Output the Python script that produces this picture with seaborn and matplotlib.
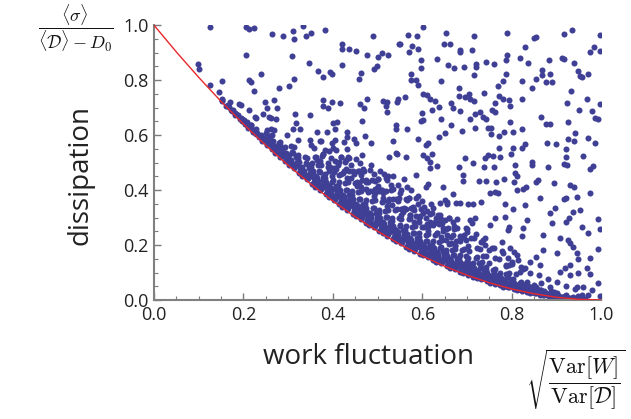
import pandas as pd
import matplotlib
matplotlib.use("Agg")
import matplotlib.pyplot as plt
from matplotlib.ticker import MultipleLocator
import seaborn as sns

# bound curve
curve_x = [0.0, 0.05, 0.1, 0.15, 0.2, 0.25, 0.3, 0.35, 0.4, 0.45, 0.5,
           0.55, 0.6, 0.65, 0.7, 0.75, 0.8, 0.85, 0.9, 0.95, 1.0]
curve_y = [1.0, 0.9025, 0.81, 0.7225, 0.64, 0.5625, 0.49, 0.4225, 0.36, 0.3025, 0.25,
           0.2025, 0.16, 0.1225, 0.09, 0.0625, 0.04, 0.0225, 0.01, 0.0025, 0.0]

# sparse points, upper-left part of the plot
upper_left = [
    (.125,.995),(.206,.995),(.212,.987),(.223,.990),(.334,.996),(.263,.967),(.289,.96),(.311,.978),
    (.313,.948),(.339,.962),(.351,.970),(.382,.984),(.49,.96),(.42,.933),(.42,.912),(.435,.912),
    (.451,.907),(.477,.891),(.5,.883),(.499,.851),(.492,.839),(.206,.891),(.308,.887),(.099,.857),
    (.101,.84),(.347,.864),(.24,.824),(.367,.833),(.378,.812),(.393,.828),(.398,.824),(.42,.855),
    (.463,.827),(.459,.804),(.313,.803),(.213,.80),(.218,.794),(.125,.783),(.151,.795),(.223,.761),
    (.28,.772),(.302,.779),(.145,.756),(.153,.733),(.17,.721),(.191,.712),(.194,.709),(.248,.719),
    (.268,.727),(.168,.702),(.173,.693),(.213,.693),(.253,.70),(.274,.697),(.377,.727),(.378,.705),
    (.39,.697),(.398,.72),(.416,.715),(.46,.712),(.469,.697),(.476,.731),(.316,.676),(.349,.673),
    (.182,.68),(.188,.672),(.197,.658),(.225,.667),(.227,.663),(.243,.676),(.257,.667),(.273,.658),
    (.261,.662),(.196,.652),(.208,.636),(.218,.635),(.317,.644),(.401,.644),(.41,.648),(.465,.652),
    (.222,.616),(.228,.604),(.253,.618),(.261,.622),(.311,.621),(.326,.621),(.364,.61),(.386,.61),
    (.405,.622),(.431,.612),(.431,.594),(.448,.587),(.471,.596),(.486,.572),
    (.373,.578),(.349,.582),(.322,.582),(.297,.6),(.268,.618),(.263,.564),(.282,.576),(.397,.572),
    (.404,.582),(.425,.576),(.451,.57),(.542,.536),(.378,.533),(.392,.543),(.408,.545),(.431,.548),
    (.434,.521),(.419,.519),(.466,.527),
]

# sparse points, upper-right part of the plot
upper_right = [
    (.602,.995),(.568,.964),(.587,.96),(.653,.973),(.715,.96),(.79,.973),(.849,.955),(.853,.957),
    (.917,.967),(.934,.982),(.998,.964),(.548,.93),(.551,.931),(.577,.924),(.571,.902),(.591,.912),
    (.648,.932),(.661,.932),(.684,.909),(.685,.901),(.711,.909),(.829,.921),(.984,.921),(.974,.902),
    (.997,.905),(.509,.897),(.524,.891),(.79,.893),(.787,.873),(.818,.879),(.912,.879),(.917,.876),
    (.939,.861),(.597,.873),(.597,.845),(.633,.875),(.658,.855),(.671,.845),(.693,.846),(.719,.857),
    (.719,.849),(.742,.865),(.761,.858),(.837,.861),(.884,.873),(.867,.836),(.885,.824),(.948,.834),
    (.952,.815),(.957,.81),(.971,.822),(.574,.822),(.574,.80),(.585,.80),(.591,.784),(.642,.795),
    (.716,.819),(.788,.822),(.781,.796),(.769,.779),(.822,.797),(.853,.805),(.876,.794),(.889,.793),
    (.868,.818),(.844,.772),(.682,.773),(.933,.76),(.602,.749),(.611,.745),(.617,.731),(.629,.725),
    (.562,.739),(.545,.733),(.544,.721),(.511,.724),(.52,.721),(.518,.705),(.521,.684),(.682,.742),
    (.695,.739),(.704,.749),(.706,.731),(.716,.725),(.738,.753),(.771,.743),(.781,.73),(.794,.727),
    (.762,.717),(.796,.705),(.822,.732),(.665,.717),(.638,.703),(.621,.691),(.6,.679),(.669,.697),
    (.685,.688),(.728,.683),(.735,.665),(.743,.657),(.717,.676),(.756,.691),(.762,.684),(.706,.659),
    (.641,.658),(.602,.655),(.598,.652),(.541,.635),(.542,.621),(.565,.622),(.663,.635),(.688,.616),
    (.718,.627),(.747,.627),(.753,.627),(.753,.604),(.772,.596),(.783,.612),(.802,.612),(.823,.621),
    (.796,.648),(.866,.664),(.876,.64),(.885,.64),(.926,.646),(.924,.715),(.967,.733),(.95,.693),
    (.979,.688),(.997,.713),(.985,.661),(.993,.659),(.94,.606),(.926,.585),(.939,.579),(.971,.59),
    (.985,.57),(.879,.573),(.898,.568),(.922,.549),(.922,.521),(.959,.524),(.829,.566),(.822,.553),
    (.803,.552),(.771,.552),(.591,.587),(.535,.579),(.613,.57),(.609,.565),(.638,.594),(.651,.606),
    (.695,.517),(.74,.517),(.747,.527),(.757,.524),(.544,.533),(.526,.521),(.563,.521),(.602,.527),
    (.611,.517),(.622,.533),(.773,.521),(.799,.533),
]

# sparse points, lower-right part of the plot
lower_right = [
    (.617,.501),(.618,.479),(.632,.488),(.682,.485),(.714,.499),(.738,.483),(.76,.483),(.807,.491),
    (.808,.461),(.811,.451),(.844,.503),(.846,.491),(.881,.485),(.917,.495),(.924,.491),(.982,.487),
    (.974,.475),(.492,.458),(.524,.451),(.52,.436),(.585,.455),(.565,.41),(.613,.421),(.608,.41),
    (.647,.41),(.668,.384),(.69,.434),(.691,.455),(.726,.434),(.742,.434),(.764,.43),(.782,.44),
    (.804,.43),(.825,.403),(.831,.41),(.855,.43),(.858,.438),(.894,.426),(.93,.418),(.939,.41),
    (.916,.366),(.921,.37),(.945,.376),(.974,.39),(.863,.37),(.811,.40),(.751,.388),(.762,.394),
    (.769,.388),(.684,.354),(.702,.349),(.714,.349),(.732,.356),(.639,.354),(.655,.358),(.675,.354),
    (.784,.351),(.803,.331),(.829,.345),(.896,.333),(.885,.318),(.937,.321),(.952,.327),(.922,.285),
    (.928,.297),(.993,.293),(.956,.264),(.971,.245),(.997,.257),(.889,.279),(.87,.236),(.907,.224),
    (.926,.218),(.93,.208),(.937,.194),(.974,.152),(.993,.185),(.948,.148),(.93,.127),(.918,.115),
    (.907,.103),(.967,.115),(.974,.095),(.93,.091),(.948,.097),(.993,.061),(.945,.048),(.959,.048),
    (.885,.048),(.866,.061),(.855,.048),(.9,.024),(.913,.012),(.922,.012),(.957,.017),(.948,.016),
    (.997,.015),(.829,.115),(.84,.139),(.863,.127),(.855,.157),(.87,.182),(.811,.164),(.814,.145),
    (.792,.152),(.788,.127),(.825,.261),(.833,.291),(.822,.233),(.796,.188),(.804,.176),(.777,.212),
    (.762,.297),(.784,.303),(.792,.255),(.794,.267),(.751,.273),(.741,.224),(.732,.212),(.706,.291),
    (.718,.297),(.71,.279),(.699,.248),(.693,.236),(.684,.221),(.669,.285),(.678,.293),(.658,.261),
    (.65,.291),(.602,.315),(.624,.333),(.635,.309),(.643,.279),(.617,.285),(.65,.364),(.654,.351),
    (.565,.364),(.557,.321),(.572,.309),(.58,.33),(.591,.351),(.956,.004),(.922,.018),(.863,.036),
    (.87,.02),(.848,.03),(.885,.015),(.9,.17),(.945,.17),
    (.47,.47),(.46,.5),(.485,.49),(.5,.44),(.505,.47),(.515,.46),(.53,.42),(.545,.42),(.55,.39),
    (.535,.45),(.56,.44),(.575,.4),(.59,.38),(.6,.36),(.62,.35),(.44,.49),(.43,.51),(.455,.47),
    (.5,.415),(.51,.4),(.57,.37),(.58,.34),(.61,.325),(.63,.3),(.66,.3),(.67,.27),(.64,.31),
    (.7,.26),(.72,.24),(.74,.2),(.76,.19),(.78,.17),(.8,.13),(.82,.12),(.84,.1),(.86,.09),
    (.88,.075),(.9,.065),(.92,.05),(.94,.04),(.97,.02),(.98,.035),
]

# points just above the dense band, where it thins out
mid_fill = [
    (.352,.565),(.358,.552),(.364,.511),(.371,.578),(.377,.530),(.383,.545),(.389,.497),(.395,.515),
    (.401,.552),(.407,.478),(.412,.492),(.418,.520),(.424,.470),(.429,.478),(.436,.515),(.441,.445),
    (.447,.458),(.452,.512),(.458,.425),(.463,.455),(.468,.475),(.474,.430),(.479,.428),(.484,.472),
    (.489,.398),(.495,.432),(.501,.440),(.507,.402),(.512,.389),(.518,.445),(.523,.362),(.529,.401),
    (.534,.405),(.541,.368),(.546,.361),(.552,.402),(.558,.333),(.563,.368),(.569,.372),(.575,.335),
    (.581,.327),(.586,.372),(.592,.300),(.598,.331),(.604,.338),(.611,.278),(.617,.312),(.622,.318),
    (.628,.282),(.634,.281),(.641,.296),(.647,.262),(.653,.259),(.659,.298),(.665,.228),(.671,.257),
    (.678,.262),(.684,.232),(.691,.228),(.697,.262),(.703,.196),(.709,.226),(.716,.225),(.723,.190),
    (.729,.187),(.736,.218),(.742,.160),(.749,.183),(.756,.188),(.763,.152),(.771,.149),(.778,.178),
    (.786,.122),(.794,.129),(.801,.138),(.809,.095),(.818,.101),(.826,.112),
    (.372,.505),(.392,.47),(.413,.455),(.433,.44),(.453,.415),(.473,.405),(.493,.39),(.513,.37),
    (.533,.345),(.553,.33),(.573,.31),(.593,.285),(.613,.265),(.633,.245),(.653,.22),(.673,.2),
]

# dense band hugging the bound, x from 0.15 to 0.35
band_a = [
    (.151,.723),(.153,.726),(.162,.707),(.165,.711),(.174,.689),(.177,.691),
    (.181,.673),(.183,.676),(.192,.657),(.195,.661),
    (.204,.640),(.207,.644),(.201,.654),(.209,.647),
    (.211,.625),(.213,.630),(.216,.636),(.218,.627),
    (.222,.610),(.225,.616),(.229,.623),(.224,.612),
    (.234,.593),(.237,.597),(.231,.607),(.239,.600),
    (.241,.579),(.243,.584),(.246,.590),(.248,.581),
    (.252,.565),(.255,.574),(.259,.584),(.254,.569),(.257,.597),(.251,.609),
    (.264,.548),(.267,.554),(.261,.567),(.269,.558),(.265,.580),(.263,.599),
    (.271,.534),(.273,.541),(.276,.550),(.278,.537),(.272,.562),(.279,.573),
    (.282,.520),(.285,.529),(.289,.539),(.284,.524),(.287,.552),(.281,.564),
    (.294,.504),(.297,.510),(.291,.523),(.299,.514),(.295,.536),(.293,.555),
    (.301,.491),(.303,.500),(.306,.511),(.308,.496),(.302,.526),(.309,.540),(.304,.505),(.307,.560),
    (.312,.479),(.315,.490),(.319,.503),(.314,.483),(.317,.519),(.311,.535),(.316,.494),(.313,.557),
    (.324,.462),(.327,.469),(.321,.486),(.329,.475),(.325,.503),(.323,.526),(.328,.480),(.322,.515),
    (.331,.450),(.333,.459),(.336,.470),(.338,.455),(.332,.485),(.339,.499),(.334,.464),(.337,.519),
    (.342,.439),(.345,.450),(.349,.463),(.344,.443),(.347,.479),(.341,.495),(.346,.454),(.343,.517),
]

# dense band, x from 0.35 to 0.55
band_b = [
    (.354,.423),(.357,.431),(.351,.450),(.359,.437),(.355,.469),(.353,.497),(.358,.444),(.352,.484),(.356,.458),(.359,.522),
    (.361,.412),(.363,.421),(.366,.434),(.368,.416),(.362,.452),(.369,.468),(.364,.428),(.367,.490),(.365,.444),(.363,.522),
    (.372,.400),(.375,.413),(.379,.427),(.374,.405),(.377,.447),(.371,.464),(.376,.418),(.373,.490),(.378,.435),(.375,.525),
    (.384,.384),(.387,.392),(.381,.411),(.389,.398),(.385,.430),(.383,.458),(.388,.405),(.382,.445),(.386,.419),(.389,.483),
    (.391,.374),(.393,.383),(.396,.396),(.398,.378),(.392,.414),(.399,.430),(.394,.390),(.397,.452),(.395,.406),(.393,.484),
    (.402,.364),(.405,.378),(.409,.394),(.404,.369),(.407,.416),(.401,.436),(.406,.383),(.403,.464),(.408,.403),(.405,.504),(.402,.479),
    (.414,.348),(.417,.357),(.411,.379),(.419,.364),(.415,.400),(.413,.431),(.418,.371),(.412,.416),(.416,.388),(.419,.460),(.414,.503),
    (.421,.338),(.423,.349),(.426,.363),(.428,.343),(.422,.383),(.429,.401),(.424,.356),(.427,.426),(.425,.374),(.423,.462),(.428,.503),
    (.432,.329),(.435,.343),(.439,.359),(.434,.334),(.437,.381),(.431,.401),(.436,.348),(.433,.429),(.438,.368),(.435,.469),(.432,.444),
    (.444,.314),(.447,.323),(.441,.345),(.449,.330),(.445,.366),(.443,.397),(.448,.337),(.442,.382),(.446,.354),(.449,.426),(.444,.469),
    (.451,.305),(.453,.316),(.456,.330),(.458,.310),(.452,.350),(.459,.368),(.454,.323),(.457,.393),(.455,.341),(.453,.429),(.458,.470),
    (.462,.296),(.465,.310),(.469,.326),(.464,.301),(.467,.348),(.461,.368),(.466,.315),(.463,.396),(.468,.335),(.465,.436),(.462,.411),
    (.474,.281),(.477,.290),(.471,.312),(.479,.297),(.475,.333),(.473,.364),(.478,.304),(.472,.349),(.476,.321),(.479,.393),(.474,.436),
    (.481,.272),(.483,.283),(.486,.297),(.488,.277),(.482,.317),(.489,.335),(.484,.290),(.487,.360),(.485,.308),(.483,.396),(.488,.437),
    (.492,.264),(.495,.278),(.499,.294),(.494,.269),(.497,.316),(.491,.336),(.496,.283),(.493,.364),(.498,.303),(.495,.404),(.492,.379),
    (.504,.250),(.507,.259),(.501,.279),(.509,.265),(.505,.299),(.503,.328),(.508,.272),(.502,.315),(.506,.287),(.509,.355),(.504,.396),
    (.511,.242),(.513,.252),(.516,.266),(.518,.247),(.512,.284),(.519,.301),(.514,.259),(.517,.325),(.515,.276),(.513,.359),(.518,.398),
    (.522,.233),(.525,.247),(.529,.262),(.524,.239),(.527,.283),(.521,.301),(.526,.252),(.523,.329),(.528,.271),(.525,.366),(.522,.342),
    (.534,.221),(.537,.230),(.531,.250),(.539,.236),(.535,.270),(.533,.299),(.538,.243),(.532,.286),(.536,.258),(.539,.326),(.534,.367),
    (.541,.214),(.543,.224),(.546,.238),(.548,.219),(.542,.256),(.549,.273),(.544,.231),(.547,.297),(.545,.248),(.543,.331),(.548,.370),
]

# dense band, x from 0.55 to 0.75
band_c = [
    (.552,.206),(.555,.219),(.559,.233),(.554,.211),(.557,.253),(.551,.270),(.556,.224),(.553,.296),(.558,.241),(.555,.331),(.552,.309),
    (.564,.194),(.567,.202),(.561,.221),(.569,.208),(.565,.240),(.563,.268),(.568,.215),(.562,.255),(.566,.229),(.569,.293),(.564,.332),
    (.571,.187),(.573,.196),(.576,.209),(.578,.191),(.572,.227),(.579,.243),(.574,.203),(.577,.265),(.575,.219),(.573,.297),(.578,.334),
    (.582,.179),(.585,.192),(.589,.206),(.584,.184),(.587,.226),(.581,.243),(.586,.197),(.583,.269),(.588,.214),(.585,.304),(.582,.282),
    (.594,.168),(.597,.176),(.591,.195),(.599,.182),(.595,.214),(.593,.242),(.598,.189),(.592,.229),(.596,.203),(.599,.267),(.594,.306),
    (.601,.162),(.603,.171),(.606,.183),(.608,.166),(.602,.199),(.609,.214),(.604,.177),(.607,.235),(.605,.192),(.603,.265),(.608,.300),
    (.612,.155),(.615,.167),(.619,.181),(.614,.160),(.617,.199),(.611,.215),(.616,.172),(.613,.239),(.618,.188),(.615,.272),(.612,.251),
    (.624,.144),(.627,.152),(.621,.170),(.629,.158),(.625,.188),(.623,.213),(.628,.164),(.622,.201),(.626,.177),(.629,.237),(.624,.273),
    (.631,.139),(.633,.148),(.636,.160),(.638,.143),(.632,.176),(.639,.191),(.634,.154),(.637,.212),(.635,.169),(.633,.242),(.638,.277),
    (.642,.133),(.645,.145),(.649,.159),(.644,.138),(.647,.177),(.641,.193),(.646,.150),(.643,.217),(.648,.166),(.645,.250),(.642,.229),
    (.654,.123),(.657,.130),(.651,.145),(.659,.135),(.655,.161),(.653,.183),(.658,.140),(.652,.172),(.656,.152),(.659,.204),(.654,.235),
    (.661,.117),(.663,.125),(.666,.136),(.668,.121),(.662,.150),(.669,.163),(.664,.130),(.667,.181),(.665,.143),(.663,.207),(.668,.237),
    (.672,.112),(.675,.122),(.679,.134),(.674,.116),(.677,.149),(.671,.164),(.676,.126),(.673,.184),(.678,.140),(.675,.213),(.672,.195),
    (.684,.102),(.687,.109),(.681,.124),(.689,.114),(.685,.140),(.683,.162),(.688,.119),(.682,.151),(.686,.131),(.689,.183),(.684,.214),
    (.691,.097),(.693,.105),(.696,.116),(.698,.101),(.692,.130),(.699,.143),(.694,.110),(.697,.161),(.695,.123),(.693,.187),(.698,.217),
    (.702,.092),(.705,.101),(.709,.111),(.704,.096),(.707,.124),(.701,.136),(.706,.104),(.703,.154),(.708,.116),(.705,.178),
    (.714,.084),(.717,.090),(.711,.103),(.719,.094),(.715,.116),(.713,.135),(.718,.098),(.712,.126),(.716,.108),(.719,.152),
    (.721,.079),(.723,.086),(.726,.095),(.728,.082),(.722,.107),(.729,.118),(.724,.090),(.727,.133),(.725,.101),(.723,.155),
    (.732,.075),(.735,.084),(.739,.094),(.734,.079),(.737,.107),(.731,.119),(.736,.087),(.733,.137),(.738,.099),(.735,.161),
    (.744,.068),(.747,.074),(.741,.087),(.749,.078),(.745,.100),(.743,.119),(.748,.082),(.742,.110),(.746,.092),(.749,.136),
]

# dense band, x from 0.75 to the end
band_d = [
    (.751,.063),(.753,.069),(.756,.076),(.758,.066),(.752,.087),(.759,.096),(.754,.072),(.757,.110),(.755,.082),
    (.762,.060),(.765,.068),(.769,.076),(.764,.063),(.767,.087),(.761,.098),(.766,.070),(.763,.113),(.768,.081),
    (.774,.053),(.777,.058),(.771,.069),(.779,.062),(.775,.081),(.773,.097),(.778,.065),(.772,.089),(.776,.074),
    (.781,.049),(.783,.055),(.786,.062),(.788,.052),(.782,.073),(.789,.082),(.784,.058),(.787,.096),(.785,.068),
    (.792,.046),(.795,.054),(.799,.062),(.794,.049),(.797,.073),(.791,.084),(.796,.056),(.793,.099),(.798,.067),
    (.804,.040),(.807,.044),(.801,.053),(.809,.047),(.805,.062),(.803,.075),(.808,.050),
    (.811,.037),(.813,.041),(.816,.047),(.818,.039),(.812,.056),(.819,.063),(.814,.044),
    (.822,.034),(.825,.040),(.829,.046),(.824,.036),(.827,.055),(.821,.064),(.826,.042),
    (.834,.029),(.837,.033),(.831,.042),(.839,.036),(.835,.051),(.833,.064),(.838,.039),
    (.841,.027),(.843,.031),(.846,.037),(.848,.029),(.842,.046),(.849,.053),(.844,.034),
    (.852,.024),(.855,.029),(.859,.033),(.854,.026),(.857,.040),
    (.864,.020),(.867,.023),(.861,.029),(.869,.025),(.865,.036),
    (.871,.018),(.873,.021),(.876,.025),(.878,.019),(.872,.031),
    (.882,.015),(.885,.020),(.889,.024),(.884,.017),(.887,.031),
    (.894,.012),(.897,.015),(.891,.021),(.899,.017),(.895,.028),
    (.901,.010),(.903,.013),(.906,.016),(.912,.009),(.915,.012),(.919,.016),
    (.924,.006),(.927,.008),(.921,.013),(.931,.005),(.933,.008),(.936,.011),
    (.942,.005),(.945,.008),(.954,.003),(.957,.005),(.961,.002),(.963,.005),
]

pts = upper_left + upper_right + lower_right + mid_fill + band_a + band_b + band_c + band_d
df = pd.DataFrame(pts, columns=["fluct", "diss"])
curve = pd.DataFrame({"fluct": curve_x, "diss": curve_y})

sns.set_theme(style="white")
plt.rcParams["font.family"] = ["Open Sans", "DejaVu Sans"]
plt.rcParams["mathtext.fontset"] = "cm"

fig = plt.figure(figsize=(6.31, 4.19), dpi=100)
ax = fig.add_axes([0.244, 0.284, 0.709, 0.656])

sns.scatterplot(data=df, x="fluct", y="diss", ax=ax, color="#3f3f96",
                s=19, linewidth=0, zorder=2)
sns.lineplot(data=curve, x="fluct", y="diss", ax=ax, color="#e8282c",
             linewidth=1.0, estimator=None, sort=True, zorder=3)

ax.set_xlim(0, 1)
ax.set_ylim(0, 1)
ax.xaxis.set_minor_locator(MultipleLocator(0.05))
ax.yaxis.set_minor_locator(MultipleLocator(0.05))
ax.set_xticks([0, 0.2, 0.4, 0.6, 0.8, 1.0])
ax.set_xticklabels(["0.0", "0.2", "0.4", "0.6", "0.8", "1.0"])
ax.set_yticks([0, 0.2, 0.4, 0.6, 0.8, 1.0])
ax.set_yticklabels(["0.0", "0.2", "0.4", "0.6", "0.8", "1.0"])

ax.tick_params(which="both", direction="in", colors="#7a7a7a", labelcolor="#222222",
               labelsize=13, pad=4)
ax.tick_params(which="major", length=5, width=1)
ax.tick_params(which="minor", length=3, width=0.8)
ax.xaxis.set_tick_params(which="both", bottom=True, top=False)
ax.yaxis.set_tick_params(which="both", left=True, right=False)

for side in ["top", "right"]:
    ax.spines[side].set_visible(False)
for side in ["left", "bottom"]:
    ax.spines[side].set_color("#808080")
    ax.spines[side].set_linewidth(1.5)

ax.set_xlabel("work fluctuation", fontsize=20, color="#222222")
ax.set_ylabel("dissipation", fontsize=20, color="#222222")
ax.xaxis.set_label_coords(0.48, -0.155)
ax.yaxis.set_label_coords(-0.132, 0.455)

fig.text(0.12, 0.933, r"$\dfrac{\langle\sigma\rangle}{\langle\mathcal{D}\rangle - D_0}$",
         fontsize=13, ha="center", va="center", color="#111111")
fig.text(0.912, 0.093, r"$\sqrt{\dfrac{\mathrm{Var}[W]}{\mathrm{Var}[\mathcal{D}]}}$",
         fontsize=16, ha="center", va="center", color="#111111")

plt.savefig("out.png", dpi=100)
